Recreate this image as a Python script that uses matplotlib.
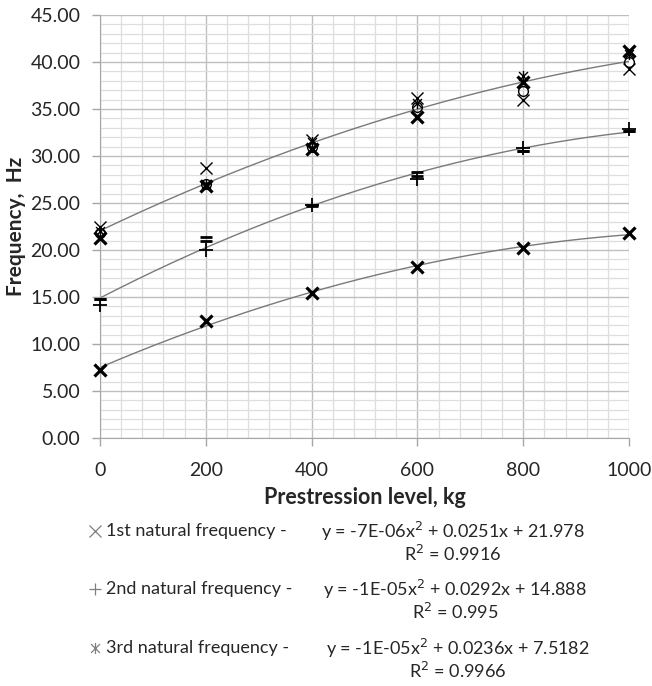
import numpy as np
import matplotlib
matplotlib.use("Agg")
from matplotlib import pyplot as plt
from matplotlib.path import Path
from matplotlib.lines import Line2D

plt.rcParams['font.family'] = ['Lato', 'DejaVu Sans']

# data
load_kg = [0, 200, 400, 600, 800, 1000]

# lowest curve (bold x)
low_x = [7.2, 12.5, 15.4, 18.2, 20.2, 21.8]

# middle curve
mid_plus = [14.1, 20.0, 24.8, 27.6, 30.8, 32.9]
mid_dash_a = [14.8, 21.4, 24.7, 28.3, 30.5, 32.7]
mid_dash_b = [14.8, 21.0, 24.8, 27.9, 30.5, 32.7]

# upper curve
up_thin_x = [22.4, 28.7, 31.7, 36.2, 36.0, 39.3]
up_star = [22.0, 27.0, 31.5, 35.6, 38.5, 40.8]
up_bold_x = [21.3, 26.8, 30.7, 34.2, 37.9, 41.2]
up_circle = [21.8, 27.0, 31.0, 35.2, 36.9, 40.0]

legend_names = ['1st natural frequency -', '2nd natural frequency -', '3rd natural frequency -']
legend_eqs = ['y = -7E-06x$^2$ + 0.0251x + 21.978', 'y = -1E-05x$^2$ + 0.0292x + 14.888',
              'y = -1E-05x$^2$ + 0.0236x + 7.5182']
legend_r2 = ['R$^2$ = 0.9916', 'R$^2$ = 0.995', 'R$^2$ = 0.9966']

star = Path([(-1, -1), (1, 1), (-1, 1), (1, -1), (0, -1.25), (0, 1.25)],
            [Path.MOVETO, Path.LINETO, Path.MOVETO, Path.LINETO, Path.MOVETO, Path.LINETO])

fig = plt.figure(figsize=(6.52, 6.86), dpi=100)
ax = fig.add_axes([100/652, 1 - 438/686, 529/652, 423/686])

x = np.array(load_kg)

# trend lines (2nd order fits of each group)
xx = np.linspace(0, 1000, 200)
groups = [low_x, mid_plus + mid_dash_a + mid_dash_b, up_thin_x + up_star + up_bold_x + up_circle]
for g in groups:
    n = len(g) // len(load_kg)
    c = np.polyfit(np.tile(x, n), g, 2)
    ax.plot(xx, np.polyval(c, xx), color='#7A7A7A', lw=1.0, zorder=2)

k = dict(color='black', ls='none', zorder=3, clip_on=False)
ax.plot(x, low_x, marker='x', ms=9, mew=2.3, **k)
ax.plot(x, mid_plus, marker='+', ms=10, mew=1.3, **k)
ax.plot(x, mid_dash_a, marker='_', ms=8, mew=2.0, **k)
ax.plot(x, mid_dash_b, marker='_', ms=8, mew=2.0, **k)
ax.plot(x, up_thin_x, marker='x', ms=8, mew=1.0, **k)
ax.plot(x, up_star, marker=star, ms=8, mew=1.0, **k)
ax.plot(x, up_bold_x, marker='x', ms=9, mew=2.3, **k)
ax.plot(x, up_circle, marker='o', ms=7, mew=1.0, mfc='none', **k)

ax.set_xlim(0, 1000)
ax.set_ylim(0, 45)
ax.set_xticks(np.arange(0, 1001, 200))
ax.set_xticks(np.arange(0, 1001, 40), minor=True)
ax.set_yticks(np.arange(0, 45.1, 5))
ax.set_yticks(np.arange(0, 45.1, 1), minor=True)
ax.set_yticklabels(['%.2f' % v for v in np.arange(0, 45.1, 5)])
ax.grid(which='major', color='#BFBFBF', lw=1.0, zorder=0)
ax.grid(which='minor', color='#DEDEDE', lw=0.9, zorder=0)
ax.set_axisbelow(True)
for s in ['top', 'right']:
    ax.spines[s].set_visible(False)
for s in ['left', 'bottom']:
    ax.spines[s].set_color('#A6A6A6')
ax.tick_params(which='major', length=6, width=1, color='#A6A6A6', labelsize=14, labelcolor='#262626', pad=8)
ax.tick_params(which='minor', length=0)
ax.tick_params(axis='x', pad=11)
ax.set_xlabel('Prestression level, kg', fontsize=15.5, fontweight='bold', color='#262626', labelpad=6)
ax.set_ylabel('Frequency,  Hz', fontsize=15, fontweight='bold', color='#262626')
ax.yaxis.set_label_coords(-0.14, 0.5)

# legend below the plot
legend_markers = ['x', '+', star]
rows_y = [531, 589, 648]
eq_cx = [453, 455, 458]
for i in range(3):
    yf = 1 - rows_y[i] / 686
    fig.add_artist(Line2D([95/652], [yf], marker=legend_markers[i], ms=8, mew=0.9,
                          color='#7F7F7F', transform=fig.transFigure))
    fig.text(106/652, yf, legend_names[i], fontsize=13, color='#262626', va='center')
    fig.text(eq_cx[i]/652, yf, legend_eqs[i], fontsize=13, color='#262626', va='center', ha='center')
    fig.text(eq_cx[i]/652, yf - 23/686, legend_r2[i], fontsize=13, color='#262626', va='center', ha='center')

fig.savefig('out.png', dpi=100)
